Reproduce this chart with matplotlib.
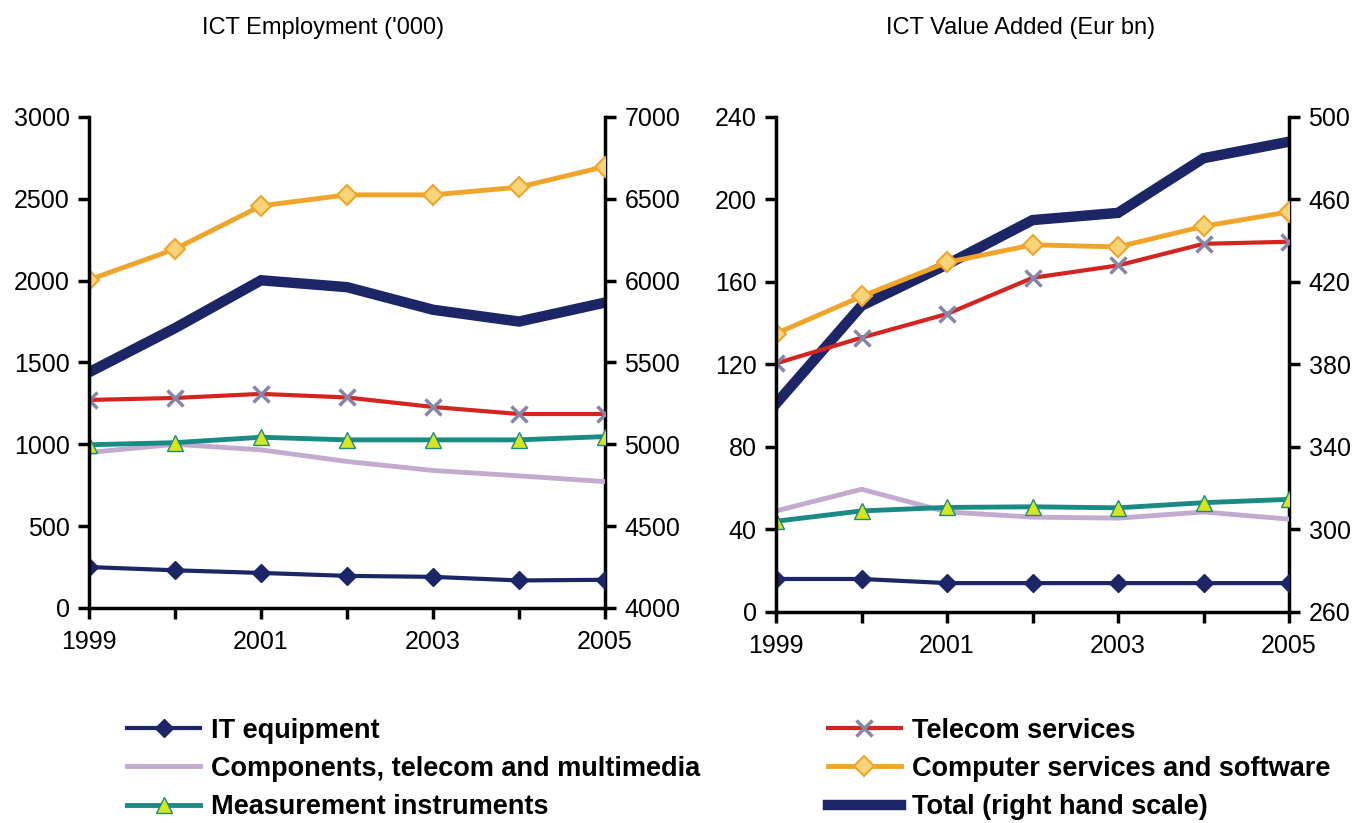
import matplotlib
matplotlib.use("Agg")
import matplotlib.pyplot as plt

plt.rcParams['font.family'] = ['Liberation Sans', 'DejaVu Sans']

years = [1999, 2000, 2001, 2002, 2003, 2004, 2005]
year_ticklabels = ["1999", "", "2001", "", "2003", "", "2005"]

# ICT Employment ('000)
emp_it = [250, 230, 214, 196, 190, 168, 172]
emp_comp = [950, 1000, 966, 895, 840, 807, 772]
emp_meas = [997, 1010, 1043, 1027, 1027, 1027, 1047]
emp_tel = [1271, 1283, 1308, 1286, 1228, 1185, 1185]
emp_cs = [2005, 2193, 2457, 2524, 2524, 2571, 2697]
emp_total = [5440, 5710, 6002, 5960, 5822, 5750, 5866]

# ICT Value Added (Eur bn)
va_it = [16, 16, 14, 14, 14, 14, 14]
va_comp = [49, 59.5, 48.5, 46, 45.5, 48.5, 45]
va_meas = [44, 49, 50.7, 51, 50.5, 53, 54.6]
va_tel = [120.5, 133, 144.5, 162, 168, 178.5, 179.5]
va_cs = [135, 153, 169.5, 178, 177, 187, 194]
va_total = [361, 408.5, 428.5, 450, 453.5, 480, 488]

labels = ["IT equipment", "Components, telecom and multimedia", "Measurement instruments",
          "Telecom services", "Computer services and software", "Total (right hand scale)"]

NAVY = "#1c2566"
LAV = "#c3abd0"
TEAL = "#1a8a84"
TRI = "#d8e619"
RED = "#d5241f"
XCOL = "#8585a8"
ORANGE = "#f0a52a"
DIAM = "#f8d478"

fig = plt.figure(figsize=(13.68, 8.23), dpi=100)

def draw(rect, it, comp, meas, tel, cs, total, ylim, yticks, ylim2, yticks2, title, title_x):
    ax = fig.add_axes(rect)
    ax2 = ax.twinx()
    ax.set_zorder(ax2.get_zorder() + 1)
    ax.patch.set_visible(False)
    ax2.plot(years, total, color=NAVY, lw=7.5, solid_joinstyle='miter', label=labels[5])
    ax.plot(years, it, color=NAVY, lw=3, marker='D', ms=9, mfc=NAVY, mec=NAVY, label=labels[0])
    ax.plot(years, comp, color=LAV, lw=3.5, label=labels[1])
    ax.plot(years, meas, color=TEAL, lw=3.5, marker='^', ms=11, mfc=TRI, mec=TEAL, mew=1, label=labels[2])
    ax.plot(years, tel, color=RED, lw=3, marker='x', ms=12, mec=XCOL, mew=2.5, label=labels[3])
    ax.plot(years, cs, color=ORANGE, lw=3.5, marker='D', ms=10, mfc=DIAM, mec=ORANGE, mew=1.5, label=labels[4])
    ax.set_xlim(years[0], years[-1])
    ax.set_ylim(*ylim)
    ax.set_yticks(yticks)
    ax2.set_ylim(*ylim2)
    ax2.set_yticks(yticks2)
    ax.set_xticks(years)
    ax.set_xticklabels(year_ticklabels)
    for a in (ax, ax2):
        for s in a.spines.values():
            s.set_linewidth(2.5)
        a.spines['top'].set_visible(False)
        a.tick_params(axis='both', direction='out', length=8, width=2.5, labelsize=18, pad=6)
    ax.tick_params(axis='x', pad=8)
    ax.spines['right'].set_visible(False)
    ax2.spines['left'].set_visible(False)
    ax2.spines['bottom'].set_visible(False)
    fig.text(title_x, 0.966, title, ha='center', va='center', fontsize=17)
    return ax, ax2

axL, axL2 = draw([0.0651, 0.2613, 0.3772, 0.5966], emp_it, emp_comp, emp_meas, emp_tel, emp_cs, emp_total,
                 (0, 3000), range(0, 3001, 500), (4000, 7000), range(4000, 7001, 500),
                 "ICT Employment ('000)", 0.236)
axR, axR2 = draw([0.5673, 0.2564, 0.375, 0.6015], va_it, va_comp, va_meas, va_tel, va_cs, va_total,
                 (0, 240), range(0, 241, 40), (260, 500), range(260, 501, 40),
                 "ICT Value Added (Eur bn)", 0.746)

h1, _ = axL.get_legend_handles_labels()
h2, _ = axL2.get_legend_handles_labels()
handles = h1 + h2
leg_kw = dict(frameon=False, handlelength=2.7, handletextpad=0.4,
              labelspacing=0.45, borderpad=0, borderaxespad=0,
              prop={'weight': 'bold', 'size': 19.5})
fig.legend(handles[0:3], labels[0:3], loc='upper left', bbox_to_anchor=(0.093, 0.128), **leg_kw)
fig.legend(handles[3:6], labels[3:6], loc='upper left', bbox_to_anchor=(0.605, 0.128), **leg_kw)

fig.savefig("out.png", dpi=100)
